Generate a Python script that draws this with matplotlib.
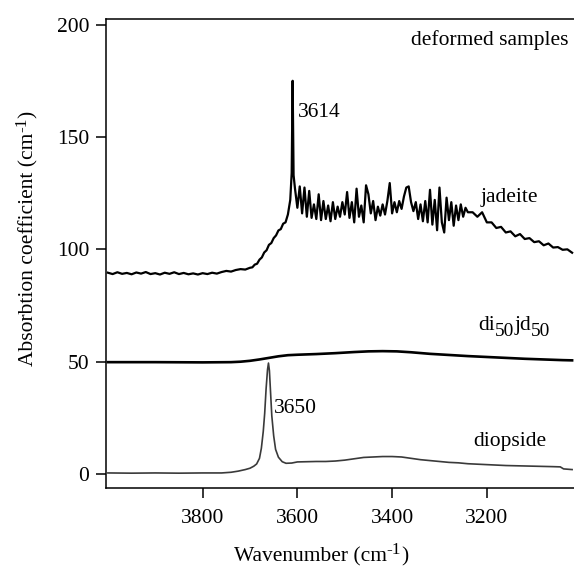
import numpy as np
import matplotlib
matplotlib.use("Agg")
import matplotlib.pyplot as plt
from matplotlib.transforms import offset_copy

plt.rcParams['font.family'] = ['Liberation Serif', 'DejaVu Serif']

# ---------------- data ----------------
# jadeite: baseline 4000-3700 (step 10)
jad_wn_a = list(range(4000, 3699, -10))
jad_ab_a = [89.6, 89.0, 89.8, 89.1, 89.5, 88.9, 89.7, 89.2, 89.9, 89.0,
            89.4, 88.8, 89.6, 89.1, 89.8, 89.0, 89.5, 88.9, 89.3, 88.8,
            89.4, 89.0, 89.6, 89.2, 89.9, 90.4, 90.1, 90.8, 91.2, 91.0, 91.8]
# jadeite: rise and 3614 peak
jad_wn_b = [3695, 3690, 3685, 3680, 3675, 3670, 3665, 3660, 3655, 3650,
            3645, 3640, 3635, 3630, 3625, 3620, 3615, 3612, 3610, 3608,
            3605, 3600, 3595, 3590, 3585]
jad_ab_b = [92.0, 93.2, 93.6, 95.4, 96.4, 98.6, 99.6, 102.0, 102.8, 105.0,
            106.2, 108.4, 109.0, 111.4, 112.0, 115.5, 122.0, 134.0, 175.0, 133.0,
            127.0, 118.5, 128.0, 116.0, 127.5]
# jadeite: noisy plateau 3580-3240 (step 5)
jad_wn_c = list(range(3580, 3239, -5))
jad_ab_c = [114.5, 126.0, 114.0, 120.0, 113.5, 124.5, 113.0, 121.5, 113.5, 119.5,
            112.5, 121.0, 113.5, 119.0, 114.5, 121.0, 115.5, 125.5, 114.0, 121.0,
            112.0, 127.0, 114.5, 119.5, 112.0, 128.5, 124.5, 116.0, 121.5, 113.0,
            119.0, 115.0, 120.0, 115.5, 121.5, 129.5, 116.0, 121.0, 116.5, 121.5,
            118.0, 123.5, 127.5, 128.0, 121.0, 117.0, 121.0, 113.5, 120.0, 112.5,
            121.5, 112.0, 126.5, 111.0, 122.0, 108.5, 127.5, 112.0, 107.5, 123.0,
            113.0, 121.0, 110.5, 119.5, 113.0, 120.0, 114.5, 118.5, 116.5]
# jadeite: decreasing tail 3230-3020 (step 10)
jad_wn_d = list(range(3230, 3019, -10))
jad_ab_d = [116.5, 114.5, 116.5, 112.0, 112.0, 109.5, 110.0, 107.5, 108.0, 105.8,
            106.8, 104.6, 105.0, 103.2, 103.6, 101.8, 102.6, 100.8, 101.0, 99.8,
            100.0, 98.5]

jadeite_wn = jad_wn_a + jad_wn_b + jad_wn_c + jad_wn_d
jadeite_ab = jad_ab_a + jad_ab_b + jad_ab_c + jad_ab_d

# di50jd50
mix_wn = [4000, 3900, 3800, 3740, 3720, 3700, 3680, 3660, 3640, 3620,
          3600, 3560, 3520, 3480, 3450, 3420, 3390, 3360, 3320, 3280,
          3240, 3200, 3160, 3120, 3080, 3040, 3020]
mix_ab = [49.8, 49.8, 49.7, 49.8, 50.0, 50.4, 51.0, 51.7, 52.4, 52.9,
          53.1, 53.4, 53.8, 54.3, 54.6, 54.7, 54.6, 54.2, 53.5, 53.0,
          52.5, 52.1, 51.7, 51.3, 51.0, 50.7, 50.6]

# diopside
dio_wn = [4000, 3950, 3900, 3850, 3800, 3760, 3740, 3725, 3710, 3700,
          3692, 3686, 3680, 3676, 3672, 3669, 3666, 3663, 3661, 3659,
          3657, 3654, 3650, 3646, 3640, 3632, 3624, 3612, 3600, 3580,
          3560, 3540, 3520, 3500, 3480, 3460, 3440, 3420, 3400, 3380,
          3360, 3340, 3320, 3300, 3280, 3260, 3240, 3220, 3200, 3180,
          3160, 3140, 3120, 3100, 3080, 3060, 3045, 3038, 3020]
dio_ab = [0.5, 0.4, 0.5, 0.4, 0.5, 0.5, 0.8, 1.3, 2.0, 2.6,
          3.5, 4.5, 7.0, 11.5, 19.0, 27.0, 38.0, 46.5, 49.4, 46.0,
          38.0, 26.0, 17.0, 11.0, 7.5, 5.5, 4.8, 4.9, 5.4, 5.5,
          5.6, 5.6, 5.8, 6.2, 6.8, 7.4, 7.6, 7.8, 7.8, 7.6,
          7.0, 6.4, 6.0, 5.6, 5.2, 5.0, 4.6, 4.4, 4.2, 4.0,
          3.8, 3.7, 3.6, 3.5, 3.4, 3.3, 3.2, 2.3, 2.0]

x_ticks = [3800, 3600, 3400, 3200]
y_ticks = [0, 50, 100, 150, 200]

DPI = 100
FS = 15.5

# ---------------- figure ----------------
fig = plt.figure(figsize=(5.74, 5.73), dpi=DPI)
ax = fig.add_axes([106/574, 1-488/573, 1-106/574, (488-19)/573])
renderer = fig.canvas.get_renderer()


def rich_text(x, y, transform, pieces, rotation=0, ha='left'):
    """pieces: list of (string, fontsize, vertical shift in px)."""
    widths = []
    for s, size, _ in pieces:
        t = fig.text(0, 0, s, fontsize=size)
        widths.append(t.get_window_extent(renderer).width)
        t.remove()
    pos = -sum(widths) / 2 if ha == 'center' else 0.0
    for (s, size, dy), w in zip(pieces, widths):
        if rotation == 0:
            ox, oy = pos, dy
        else:
            ox, oy = -dy, pos
        tr = offset_copy(transform, fig=fig, x=ox, y=oy, units='dots')
        fig.text(x, y, s, transform=tr, fontsize=size, rotation=rotation,
                 rotation_mode='anchor', ha='left', va='baseline')
        pos += w


ax.plot(jadeite_wn, jadeite_ab, color='black', lw=1.6)
ax.plot(mix_wn, mix_ab, color='black', lw=1.9)
ax.plot(dio_wn, dio_ab, color='#3a3a3a', lw=1.2)

ax.set_xlim(4004, 3016)
ax.set_ylim(-6.2, 202.5)
ax.set_xticks(x_ticks)
ax.set_yticks(y_ticks)
ax.spines['right'].set_visible(False)
for s in ['left', 'bottom', 'top']:
    ax.spines[s].set_linewidth(1.1)
ax.tick_params(axis='both', direction='out', length=7, width=1.1, labelsize=FS)
ax.tick_params(axis='x', pad=8)
ax.tick_params(axis='y', pad=5)

# axis labels with full-looking superscripts
sup = 0.8 * FS
rich_text(321 / 574, 1 - 561 / 573, fig.transFigure,
          [('Wavenumber (cm', FS, 0), ('-1', sup, 7), (')', FS, 0)],
          ha='center')
rich_text(33 / 574, 1 - 238 / 573, fig.transFigure,
          [('Absorbtion coefficient (cm', FS, 0), ('-1', sup, 7), (')', FS, 0)],
          rotation=90, ha='center')

ax.text(3028, 191, 'deformed samples', ha='right', va='baseline', fontsize=FS)
ax.text(3599, 159, '3614', ha='left', va='baseline', fontsize=FS)
ax.text(3649, 27, '3650', ha='left', va='baseline', fontsize=FS)
ax.text(3214, 121, 'jadeite', ha='left', va='baseline', fontsize=FS)
rich_text(3218, 64, ax.transData,
          [('di', FS, 0), ('50', 0.9 * FS, -6), ('jd', FS, 0), ('50', 0.9 * FS, -6)])
ax.text(3229, 12.5, 'diopside', ha='left', va='baseline', fontsize=FS)

fig.savefig('out.png', dpi=DPI)
